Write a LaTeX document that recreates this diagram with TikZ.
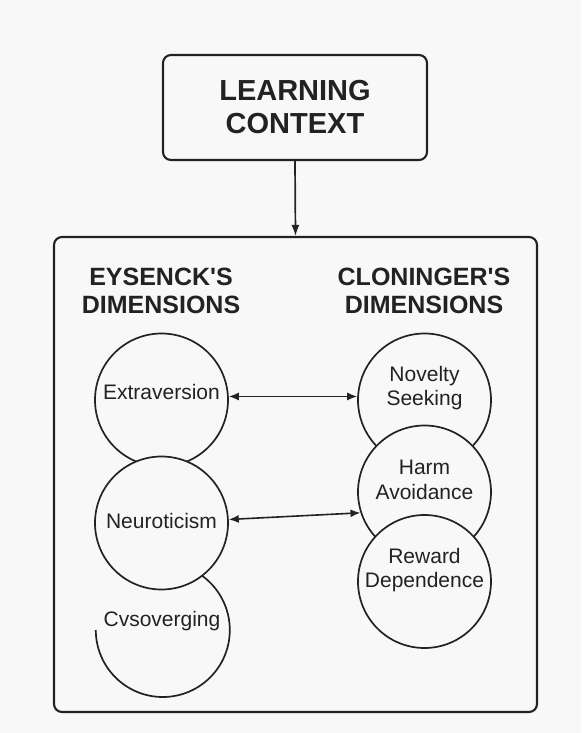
\documentclass[tikz,border=0pt]{standalone}
\usepackage{fontspec}
\setmainfont{Liberation Sans}
\usetikzlibrary{arrows.meta}
\definecolor{ink}{HTML}{222222}
\definecolor{bg}{HTML}{F8F8F8}
\begin{document}
\begin{tikzpicture}[x=1pt,y=-1pt,
  line/.style={draw=ink, line width=1.7pt},
  boxed/.style={draw=ink, line width=2.1pt, rounded corners=8pt, inner sep=0pt},
  circ/.style={circle, draw=ink, line width=1.7pt, fill=bg, minimum size=133pt, inner sep=0pt},
  lbl/.style={text=ink, font=\fontsize{21}{24.5}\selectfont, align=center, inner sep=0pt},
  head/.style={text=ink, font=\bfseries\fontsize{25}{28}\selectfont, align=center, inner sep=0pt},
  link/.style={draw=ink, line width=1.6pt, {Latex[length=10pt,width=8pt]}-{Latex[length=10pt,width=8pt]}}]
\fill[bg] (0,0) rectangle (581,733);
\useasboundingbox (0,0) rectangle (581,733);
% top box
\node[boxed, minimum width=264pt, minimum height=105pt, text=ink, align=center,
      font=\bfseries\fontsize{29}{33}\selectfont] (ctx) at (295,107.5) {LEARNING\\CONTEXT};
% main box
\node[boxed, minimum width=483pt, minimum height=475pt] (main) at (295.5,474.5) {};
\draw[line, -{Latex[length=11pt,width=8pt]}] (ctx.south) -- (main.north);
% headings
\node[head] (eys) at (161,291) {EYSENCK\textquotesingle S\\DIMENSIONS};
\node[head] (clo) at (424,291) {CLONINGER\textquotesingle S\\DIMENSIONS};
% left circles
\node[circ] (ext) at (161.5,400) {};
\node[circle, minimum size=134pt, inner sep=0pt] (cvs) at (163,630) {};
\draw[line] (cvs.180) arc[start angle=180, end angle=-57, radius=67];
\node[circ] (neu) at (161.5,523) {};
% right circles
\node[circ] (nov) at (424.5,400) {};
\node[circ] (harm) at (424.5,492) {};
\node[circ] (rew) at (424.5,581.5) {};
% labels
\node[lbl] (extl) at (161.5,392) {Extraversion};
\node[lbl] (neul) at (161.5,521) {Neuroticism};
\node[lbl] (cvsl) at (162,621) {Cvsoverging};
\node[lbl] (novl) at (424.5,388) {Novelty\\Seeking};
\node[lbl] (harml) at (424.5,480) {Harm\\Avoidance};
\node[lbl] (rewl) at (424.5,570) {Reward\\Dependence};
% arrows
\draw[link] (ext.3) -- (nov.177);
\draw[link] (neu.3) -- (harm.198);
\end{tikzpicture}
\end{document}
